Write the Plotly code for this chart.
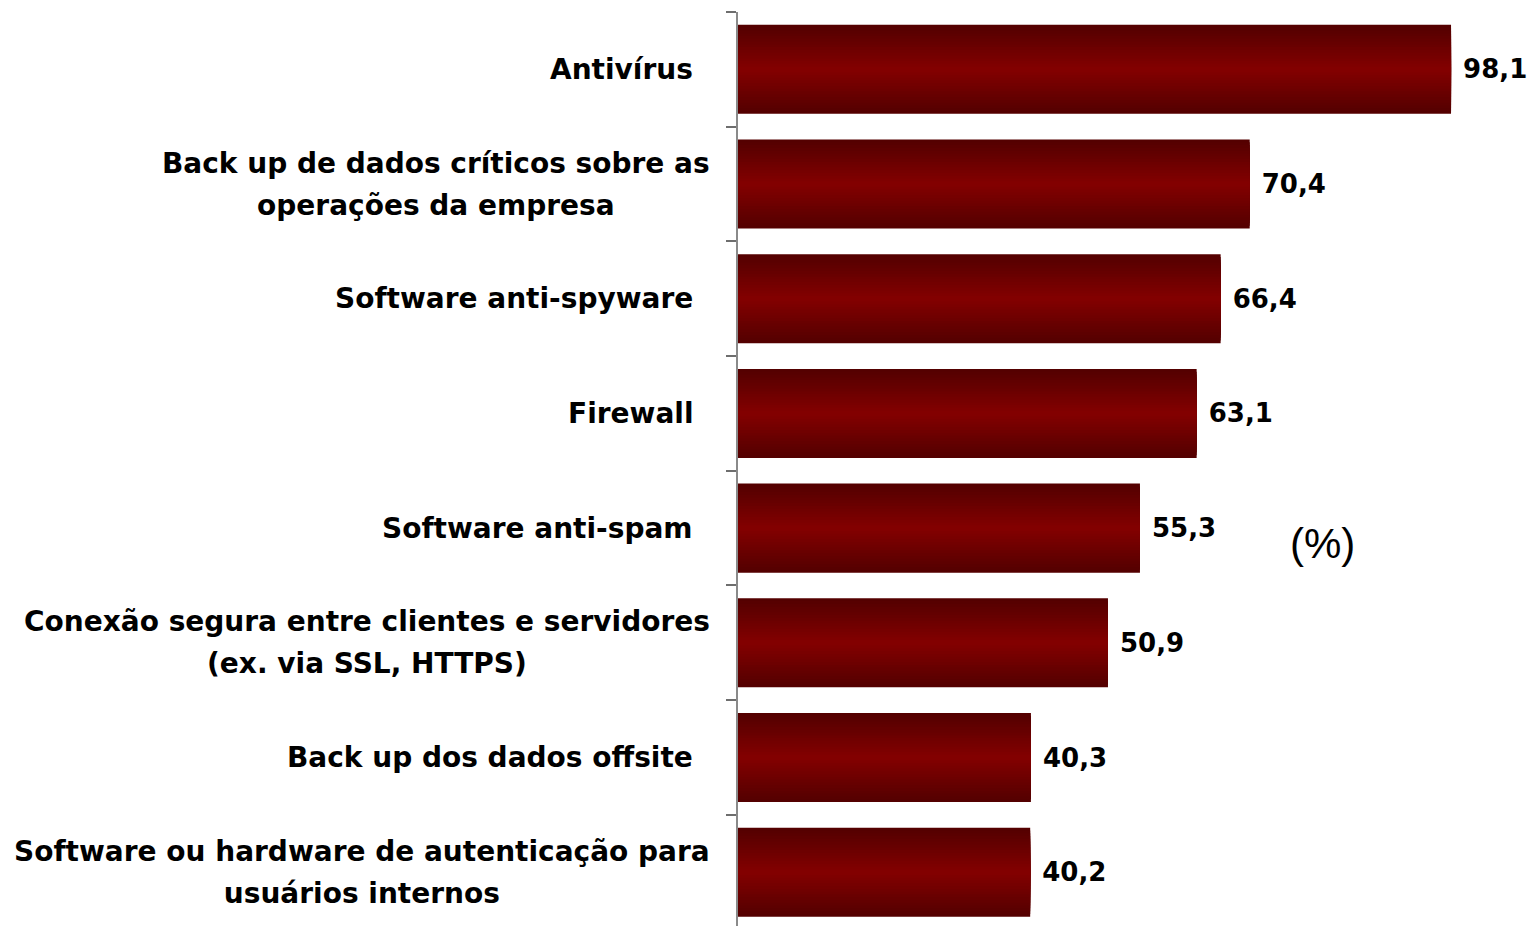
import plotly.graph_objects as go

categories = [
    "Antivírus",
    "Back up de dados críticos sobre as<br>operações da empresa",
    "Software anti-spyware",
    "Firewall",
    "Software anti-spam",
    "Conexão segura entre clientes e servidores<br>(ex. via SSL, HTTPS)",
    "Back up dos dados offsite",
    "Software ou hardware de autenticação para<br>usuários internos",
]
values = [98.1, 70.4, 66.4, 63.1, 55.3, 50.9, 40.3, 40.2]
value_labels = [f"{v:.1f}".replace(".", ",") for v in values]
unit_label = "(%)"

FONT = "DejaVu Sans"
FS_LABEL = 28
FS_VALUE = 26
LINE_GAP = 42
BAR_W = 0.776
N_LAYERS = 16
DARK = (84, 0, 0)
BRIGHT = (130, 0, 0)

fig = go.Figure()
for k in range(N_LAYERS):
    t = k / (N_LAYERS - 1)
    col = tuple(round(DARK[i] + (BRIGHT[i] - DARK[i]) * t) for i in range(3))
    w = BAR_W * (1 - k / N_LAYERS)
    kw = {}
    if k == 0:
        kw = dict(
            text=value_labels,
            texttemplate="\u00a0%{text}",
            textposition="outside",
            textfont=dict(family=FONT, size=FS_VALUE, color="black", weight="bold"),
            cliponaxis=False,
            constraintext="none",
        )
    fig.add_trace(go.Bar(
        x=values, y=categories, orientation="h", width=w,
        marker=dict(color=f"rgb{col}", line=dict(width=0)),
        hoverinfo="skip", showlegend=False, **kw,
    ))

annotations = []
for c in categories:
    multi = "<br>" in c
    lines = c.split("<br>")
    txt = "<br>".join(f"<span style='font-size:{FS_LABEL}px'>{ln}</span>" for ln in lines)
    annotations.append(dict(
        x=0, xref="paper", y=c, yref="y", text=txt, showarrow=False,
        xanchor="right", yanchor="middle", align="center",
        xshift=-26 if multi else -43,
        font=dict(family=FONT, size=LINE_GAP / 1.3, color="black", weight="bold"),
    ))
annotations.append(dict(
    x=0.744, xref="paper", y=0.419, yref="paper", text=unit_label, showarrow=False,
    xanchor="center", yanchor="middle",
    font=dict(family="Liberation Sans", size=42, color="black"),
))

fig.update_layout(
    width=1528, height=926,
    margin=dict(l=738, r=5, t=12, b=0),
    paper_bgcolor="white", plot_bgcolor="white",
    barmode="overlay",
    annotations=annotations,
    xaxis=dict(visible=False, range=[0, 108.0]),
    yaxis=dict(
        type="category", categoryorder="array", categoryarray=categories,
        range=[7.469, -0.5], showticklabels=False,
        showline=True, linecolor="#8a8a8a", linewidth=2,
        ticks="outside", tickson="boundaries", ticklen=10, tickwidth=2, tickcolor="#6e6e6e",
        showgrid=False, zeroline=False,
    ),
)

fig.write_html(
    "out.html",
    config={"displayModeBar": False},
    post_script="document.body.style.margin='0';document.body.style.overflow='hidden';",
)
